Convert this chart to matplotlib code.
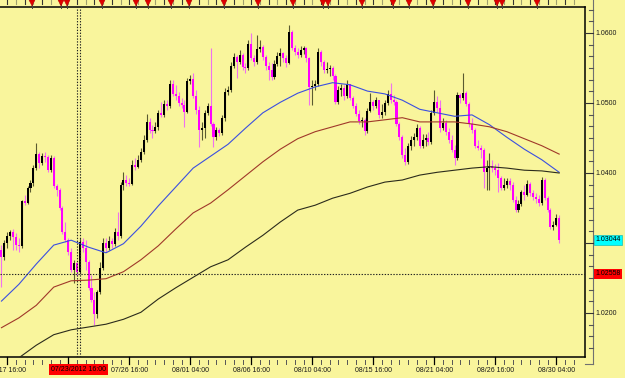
import matplotlib
matplotlib.use("Agg")
import matplotlib.pyplot as plt
from matplotlib.lines import Line2D
import numpy as np

# ---------------- data (H4 candles) ----------------
opens = [
 1.0290, 1.0280, 1.0300, 1.0310, 1.0316, 1.0309, 1.0297, 1.0296, 1.0360, 1.0357,
 1.0379, 1.0386, 1.0407, 1.0427, 1.0414, 1.0424, 1.0423, 1.0404, 1.0421, 1.0381,
 1.0376, 1.0350, 1.0316, 1.0304, 1.0287, 1.0261, 1.0271, 1.0259, 1.0301, 1.0293,
 1.0273, 1.0236, 1.0219, 1.0199, 1.0230, 1.0264, 1.0300, 1.0293, 1.0303, 1.0299,
 1.0316, 1.0310, 1.0383, 1.0390, 1.0386, 1.0384, 1.0411, 1.0409, 1.0419, 1.0430,
 1.0447, 1.0473, 1.0461, 1.0460, 1.0466, 1.0486, 1.0483, 1.0499, 1.0496, 1.0527,
 1.0513, 1.0510, 1.0500, 1.0497, 1.0487, 1.0531, 1.0534, 1.0510, 1.0490, 1.0461,
 1.0464, 1.0486, 1.0496, 1.0470, 1.0451, 1.0461, 1.0457, 1.0479, 1.0516, 1.0519,
 1.0553, 1.0566, 1.0559, 1.0569, 1.0551, 1.0550, 1.0584, 1.0564, 1.0559, 1.0577,
 1.0580, 1.0566, 1.0553, 1.0547, 1.0537, 1.0556, 1.0567, 1.0571, 1.0564, 1.0557,
 1.0601, 1.0579, 1.0573, 1.0569, 1.0576, 1.0579, 1.0564, 1.0523, 1.0524, 1.0527,
 1.0573, 1.0559, 1.0547, 1.0549, 1.0550, 1.0539, 1.0501, 1.0519, 1.0521, 1.0510,
 1.0527, 1.0507, 1.0496, 1.0484, 1.0474, 1.0476, 1.0460, 1.0489, 1.0501, 1.0496,
 1.0504, 1.0483, 1.0487, 1.0500, 1.0513, 1.0504, 1.0501, 1.0470, 1.0451, 1.0426,
 1.0416, 1.0439, 1.0447, 1.0451, 1.0464, 1.0439, 1.0447, 1.0450, 1.0444, 1.0486,
 1.0501, 1.0493, 1.0464, 1.0471, 1.0459, 1.0447, 1.0433, 1.0421, 1.0511, 1.0507,
 1.0514, 1.0499, 1.0470, 1.0461, 1.0439, 1.0436, 1.0433, 1.0401, 1.0407, 1.0410,
 1.0407, 1.0404, 1.0393, 1.0379, 1.0383, 1.0389, 1.0383, 1.0361, 1.0347, 1.0356,
 1.0373, 1.0369, 1.0384, 1.0371, 1.0366, 1.0363, 1.0357, 1.0390, 1.0364, 1.0347,
 1.0323, 1.0326, 1.0336]

highs = [
 1.0297, 1.0304, 1.0316, 1.0319, 1.0320, 1.0314, 1.0307, 1.0361, 1.0369, 1.0381,
 1.0390, 1.0411, 1.0443, 1.0430, 1.0429, 1.0430, 1.0426, 1.0426, 1.0424, 1.0384,
 1.0379, 1.0353, 1.0330, 1.0307, 1.0293, 1.0276, 1.0273, 1.0307, 1.0307, 1.0304,
 1.0276, 1.0254, 1.0230, 1.0233, 1.0273, 1.0307, 1.0307, 1.0310, 1.0307, 1.0321,
 1.0344, 1.0387, 1.0401, 1.0397, 1.0393, 1.0419, 1.0421, 1.0426, 1.0436, 1.0454,
 1.0484, 1.0479, 1.0469, 1.0473, 1.0490, 1.0501, 1.0504, 1.0504, 1.0533, 1.0533,
 1.0526, 1.0516, 1.0507, 1.0504, 1.0536, 1.0540, 1.0543, 1.0519, 1.0496, 1.0473,
 1.0490, 1.0500, 1.0579, 1.0473, 1.0466, 1.0464, 1.0483, 1.0521, 1.0524, 1.0559,
 1.0571, 1.0569, 1.0576, 1.0571, 1.0557, 1.0590, 1.0600, 1.0569, 1.0597, 1.0590,
 1.0583, 1.0569, 1.0559, 1.0557, 1.0561, 1.0573, 1.0579, 1.0573, 1.0569, 1.0611,
 1.0604, 1.0583, 1.0579, 1.0581, 1.0581, 1.0580, 1.0566, 1.0533, 1.0533, 1.0579,
 1.0576, 1.0561, 1.0559, 1.0554, 1.0553, 1.0541, 1.0524, 1.0527, 1.0526, 1.0533,
 1.0527, 1.0510, 1.0500, 1.0490, 1.0480, 1.0479, 1.0493, 1.0514, 1.0504, 1.0509,
 1.0504, 1.0499, 1.0504, 1.0519, 1.0529, 1.0511, 1.0504, 1.0473, 1.0454, 1.0436,
 1.0443, 1.0453, 1.0457, 1.0470, 1.0467, 1.0456, 1.0456, 1.0459, 1.0490, 1.0519,
 1.0510, 1.0504, 1.0479, 1.0476, 1.0464, 1.0454, 1.0440, 1.0516, 1.0514, 1.0543,
 1.0517, 1.0501, 1.0479, 1.0464, 1.0447, 1.0440, 1.0436, 1.0419, 1.0429, 1.0419,
 1.0413, 1.0414, 1.0396, 1.0393, 1.0393, 1.0393, 1.0387, 1.0367, 1.0361, 1.0376,
 1.0383, 1.0390, 1.0387, 1.0376, 1.0371, 1.0369, 1.0394, 1.0393, 1.0367, 1.0350,
 1.0331, 1.0341, 1.0340]

lows = [
 1.0237, 1.0276, 1.0293, 1.0304, 1.0290, 1.0290, 1.0287, 1.0293, 1.0354, 1.0356,
 1.0373, 1.0381, 1.0404, 1.0407, 1.0411, 1.0416, 1.0401, 1.0401, 1.0379, 1.0367,
 1.0347, 1.0313, 1.0301, 1.0283, 1.0259, 1.0243, 1.0253, 1.0256, 1.0287, 1.0261,
 1.0233, 1.0216, 1.0183, 1.0193, 1.0227, 1.0261, 1.0287, 1.0290, 1.0293, 1.0296,
 1.0304, 1.0307, 1.0376, 1.0381, 1.0381, 1.0383, 1.0404, 1.0407, 1.0416, 1.0427,
 1.0444, 1.0457, 1.0450, 1.0457, 1.0461, 1.0480, 1.0480, 1.0490, 1.0493, 1.0510,
 1.0504, 1.0496, 1.0493, 1.0466, 1.0486, 1.0527, 1.0507, 1.0484, 1.0437, 1.0447,
 1.0450, 1.0483, 1.0467, 1.0437, 1.0447, 1.0453, 1.0454, 1.0474, 1.0511, 1.0516,
 1.0550, 1.0536, 1.0556, 1.0547, 1.0543, 1.0547, 1.0561, 1.0553, 1.0556, 1.0573,
 1.0561, 1.0547, 1.0533, 1.0533, 1.0534, 1.0553, 1.0553, 1.0559, 1.0551, 1.0556,
 1.0576, 1.0569, 1.0564, 1.0566, 1.0570, 1.0559, 1.0497, 1.0497, 1.0519, 1.0524,
 1.0553, 1.0543, 1.0543, 1.0539, 1.0533, 1.0499, 1.0499, 1.0510, 1.0504, 1.0507,
 1.0504, 1.0493, 1.0481, 1.0470, 1.0466, 1.0454, 1.0457, 1.0487, 1.0490, 1.0493,
 1.0479, 1.0479, 1.0483, 1.0497, 1.0500, 1.0497, 1.0467, 1.0447, 1.0421, 1.0411,
 1.0413, 1.0433, 1.0439, 1.0447, 1.0436, 1.0436, 1.0439, 1.0440, 1.0441, 1.0483,
 1.0487, 1.0459, 1.0461, 1.0454, 1.0443, 1.0430, 1.0411, 1.0419, 1.0500, 1.0504,
 1.0496, 1.0466, 1.0457, 1.0436, 1.0433, 1.0421, 1.0379, 1.0376, 1.0376, 1.0401,
 1.0397, 1.0373, 1.0376, 1.0376, 1.0379, 1.0376, 1.0359, 1.0344, 1.0344, 1.0353,
 1.0361, 1.0367, 1.0367, 1.0361, 1.0357, 1.0353, 1.0354, 1.0361, 1.0344, 1.0320,
 1.0319, 1.0324, 1.0300]

closes = [
 1.0280, 1.0300, 1.0310, 1.0316, 1.0309, 1.0297, 1.0296, 1.0360, 1.0357, 1.0379,
 1.0386, 1.0407, 1.0427, 1.0414, 1.0424, 1.0423, 1.0404, 1.0421, 1.0381, 1.0376,
 1.0350, 1.0316, 1.0304, 1.0287, 1.0261, 1.0271, 1.0259, 1.0301, 1.0293, 1.0273,
 1.0236, 1.0219, 1.0199, 1.0230, 1.0264, 1.0300, 1.0293, 1.0303, 1.0299, 1.0316,
 1.0310, 1.0383, 1.0390, 1.0386, 1.0384, 1.0411, 1.0409, 1.0419, 1.0430, 1.0447,
 1.0473, 1.0461, 1.0460, 1.0466, 1.0486, 1.0483, 1.0499, 1.0496, 1.0527, 1.0513,
 1.0510, 1.0500, 1.0497, 1.0487, 1.0531, 1.0534, 1.0510, 1.0490, 1.0461, 1.0464,
 1.0486, 1.0496, 1.0470, 1.0451, 1.0461, 1.0457, 1.0479, 1.0516, 1.0519, 1.0553,
 1.0566, 1.0559, 1.0569, 1.0551, 1.0550, 1.0584, 1.0564, 1.0559, 1.0577, 1.0580,
 1.0566, 1.0553, 1.0547, 1.0537, 1.0556, 1.0567, 1.0571, 1.0564, 1.0557, 1.0601,
 1.0579, 1.0573, 1.0569, 1.0576, 1.0579, 1.0564, 1.0523, 1.0524, 1.0527, 1.0573,
 1.0559, 1.0547, 1.0549, 1.0550, 1.0539, 1.0501, 1.0519, 1.0521, 1.0510, 1.0527,
 1.0507, 1.0496, 1.0484, 1.0474, 1.0476, 1.0460, 1.0489, 1.0501, 1.0496, 1.0504,
 1.0483, 1.0487, 1.0500, 1.0513, 1.0504, 1.0501, 1.0470, 1.0451, 1.0426, 1.0416,
 1.0439, 1.0447, 1.0451, 1.0464, 1.0439, 1.0447, 1.0450, 1.0444, 1.0486, 1.0501,
 1.0493, 1.0464, 1.0471, 1.0459, 1.0447, 1.0433, 1.0421, 1.0511, 1.0507, 1.0514,
 1.0499, 1.0470, 1.0461, 1.0439, 1.0436, 1.0433, 1.0401, 1.0407, 1.0410, 1.0407,
 1.0404, 1.0393, 1.0379, 1.0383, 1.0389, 1.0383, 1.0361, 1.0347, 1.0356, 1.0373,
 1.0369, 1.0384, 1.0371, 1.0366, 1.0363, 1.0357, 1.0390, 1.0364, 1.0347, 1.0323,
 1.0326, 1.0336, 1.03044]

# moving averages, read every 6 bars
ma_bars = [0, 6, 12, 18, 24, 30, 36, 42, 48, 54, 60, 66, 72, 78, 84, 90, 96,
           102, 108, 114, 120, 126, 132, 138, 144, 150, 156, 162, 168, 174, 180, 186, 192]
ma_fast = [1.0217, 1.0241, 1.0270, 1.0297, 1.0304, 1.0294, 1.0286, 1.0299, 1.0324, 1.0353,
           1.0380, 1.0407, 1.0424, 1.0441, 1.0464, 1.0486, 1.0501, 1.0514, 1.0523, 1.0529,
           1.0526, 1.0517, 1.0513, 1.0504, 1.0491, 1.0486, 1.0481, 1.0483, 1.0469, 1.0451,
           1.0434, 1.0419, 1.0401]
ma_mid = [1.0179, 1.0193, 1.0211, 1.0237, 1.0246, 1.0247, 1.0249, 1.0259, 1.0276, 1.0296,
          1.0320, 1.0343, 1.0357, 1.0376, 1.0396, 1.0416, 1.0434, 1.0449, 1.0459, 1.0466,
          1.0473, 1.0473, 1.0476, 1.0479, 1.0473, 1.0473, 1.0473, 1.0470, 1.0466, 1.0459,
          1.0449, 1.0439, 1.0427]
ma_slow = [1.0121, 1.0136, 1.0154, 1.0169, 1.0176, 1.0180, 1.0184, 1.0191, 1.0201, 1.0220,
           1.0236, 1.0251, 1.0266, 1.0276, 1.0294, 1.0311, 1.0330, 1.0347, 1.0354, 1.0364,
           1.0371, 1.0380, 1.0387, 1.0390, 1.0397, 1.0401, 1.0404, 1.0407, 1.0409, 1.0407,
           1.0404, 1.0403, 1.0400]

tick_bars = [2, 23, 44, 65, 86, 107, 128, 149, 170, 191]
tick_labels = ['07/17 16:00', '07/23 04:00', '07/26 16:00', '08/01 04:00', '08/06 16:00',
               '08/10 04:00', '08/15 16:00', '08/21 04:00', '08/26 16:00', '08/30 04:00']
price_ticks = [1.0600, 1.0500, 1.0400, 1.0300, 1.0200]
price_labels = ['1.0600', '1.0500', '1.0400', '1.0300', '1.0200']
last_price = 1.03044
cross_price = 1.02558
cross_bars = [26, 27]
cross_label = '07/23/2012 16:00'
event_bars = [10.5, 20.5, 22.6, 34.6, 46.3, 50.4, 58.4, 64.6, 76.6, 88.3, 100.4,
              110.7, 112.4, 124.1, 134.8, 140.3, 148.6, 160.6, 170.6, 172.3, 184.4]

# ---------------- layout ----------------
W, H = 625, 378
BG = '#F9F59C'
PL, PR, PT, PB = 0, 585, 7, 357
BAR_PX = 61 / 21
YTOP = 1.06 + 26 / 7000
YBOT = 1.06 - 324 / 7000
FONT = 'Liberation Sans'
FS = 5.0
TXT = '#1a1a1a'

fig = plt.figure(figsize=(W / 100, H / 100), dpi=100, facecolor=BG)
ax = fig.add_axes([PL / W, 1 - PB / H, (PR - PL) / W, (PB - PT) / H])
ax.set_facecolor(BG)
ax.set_xlim(-0.5, -0.5 + (PR - PL) / BAR_PX)
ax.set_ylim(YBOT, YTOP)
ax.set_xticks([])
ax.set_yticks([])
ax.spines['left'].set_visible(False)
for s in ['top', 'right', 'bottom']:
    ax.spines[s].set_color('black')
    ax.spines[s].set_linewidth(1.1)


def fx(px):
    return px / W


def fy(py):
    return 1 - py / H


def price_py(p):
    return PT + (YTOP - p) / (YTOP - YBOT) * (PB - PT)


def bar_px(b):
    return (b + 0.5) * BAR_PX


def fline(x0, y0, x1, y1, **kw):
    fig.add_artist(Line2D([fx(x0), fx(x1)], [fy(y0), fy(y1)], transform=fig.transFigure, **kw))


# ---------------- candles ----------------
o = np.array(opens)
h = np.array(highs)
l = np.array(lows)
c = np.array(closes)
x = np.arange(len(c))
up = c >= o
body_col = np.where(up, '#000000', '#FF00FF')
wick_col = np.where(up, '#5a5a30', '#F070F0')
ax.vlines(x, l, h, colors=wick_col, lw=0.8, zorder=2)
ax.bar(x, np.maximum(np.abs(c - o), 0.00012), bottom=np.minimum(o, c), width=0.72,
       color=body_col, lw=0, zorder=3)

# ---------------- moving averages ----------------
ax.plot(ma_bars, ma_fast, color='#3B4FE0', lw=0.8, zorder=4)
ax.plot(ma_bars, ma_mid, color='#A0382A', lw=0.8, zorder=4)
ax.plot(ma_bars, ma_slow, color='#2b2b1c', lw=0.8, zorder=4)

# ---------------- crosshair ----------------
dot = (0, (1.2, 1.4))
ax.axhline(cross_price, color='#222222', lw=0.8, ls=dot, zorder=5)
for cb in cross_bars:
    ax.axvline(cb, color='#222222', lw=0.8, ls=dot, zorder=5)

# ---------------- top strip: ticks and event markers ----------------
for i in range(2, 200, 3):
    px = bar_px(i)
    col = '#333333' if (i - 2) % 6 == 0 else '#a0a070'
    fline(px, 0, px, 4, color=col, lw=0.8)
for b in event_bars:
    px = bar_px(b)
    fline(px, 2, px, 8, color='#444444', lw=0.7)
    fig.add_artist(Line2D([fx(px)], [fy(2.5)], transform=fig.transFigure, marker='v',
                          markersize=4.0, color='#E00000', markeredgecolor='#B00000',
                          markeredgewidth=0.3, lw=0))

# ---------------- bottom time axis ----------------
for i in range(2, 200, 3):
    px = bar_px(i)
    if px > PR:
        break
    if i in tick_bars:
        fline(px, PB, px, 364, color='black', lw=0.9)
    else:
        fline(px, 360, px, 364, color='#555555', lw=0.7)

cross_cx = bar_px(cross_bars[0]) + 1.5
box_half = 29
for b, lab in zip(tick_bars, tick_labels):
    cx = bar_px(b)
    # the time label that sits under the red crosshair box is hidden in the original
    if abs(cx - cross_cx) < box_half + 18:
        continue
    fig.text(fx(cx), fy(370), lab, ha='center', va='center', fontsize=FS,
             family=FONT, color=TXT, zorder=3)
fig.text(fx(cross_cx), fy(369.5), cross_label, ha='center', va='center',
         fontsize=FS, family=FONT, color='black', zorder=10,
         bbox=dict(boxstyle='square,pad=0.25', fc='#FF0000', ec='none'))

# ---------------- right price axis ----------------
fline(593, 0, 593, 364, color='#707070', lw=0.8)
fline(585, 364, 593, 364, color='#707070', lw=0.8)
k = -2
while True:
    p = 1.06 - k * 0.01 / 6
    if p < YBOT:
        break
    py = price_py(p)
    if k % 6 == 0:
        fline(585, py, 593, py, color='#333333', lw=0.8)
    else:
        fline(589, py, 593, py, color='#555555', lw=0.8)
    k += 1
for p, lab in zip(price_ticks, price_labels):
    # the label covered by the current-price box is hidden in the original
    if abs(price_py(p) - price_py(last_price)) < 9:
        continue
    fig.text(fx(595), fy(price_py(p)), lab, ha='left', va='center', fontsize=FS,
             family=FONT, color=TXT, zorder=3)
fig.text(fx(595), fy(price_py(last_price)), '%.5f' % last_price, ha='left', va='center',
         fontsize=FS, family=FONT, color='black', zorder=10,
         bbox=dict(boxstyle='square,pad=0.2', fc='#00FFFF', ec='#00b0b0', lw=0.4))
fig.text(fx(595), fy(price_py(cross_price)), '%.5f' % cross_price, ha='left', va='center',
         fontsize=FS, family=FONT, color='black', zorder=10,
         bbox=dict(boxstyle='square,pad=0.2', fc='#FF0000', ec='none'))

fig.savefig('out.png', dpi=100, facecolor=BG)
